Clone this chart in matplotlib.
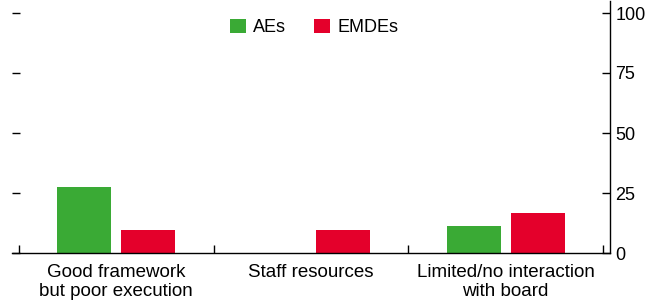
import matplotlib
matplotlib.use("Agg")
import matplotlib.pyplot as plt
import numpy as np

categories = ["Good framework\nbut poor execution", "Staff resources", "Limited/no interaction\nwith board"]
aes = [27.5, 0, 11.2]
emdes = [9.6, 9.6, 16.8]
yticks = [0, 25, 50, 75, 100]

plt.rcParams['font.family'] = ['Liberation Sans Narrow', 'Liberation Sans', 'DejaVu Sans']

fig = plt.figure(figsize=(6.5, 3.07), dpi=100)
ax = fig.add_axes([12/650, 54/307, (610-12)/650, (253-1)/307])

x = np.arange(len(categories))
w = 0.277
off = 0.164
green = "#3AAA35"
red = "#E4002B"
ax.bar(x - off, aes, width=w, color=green, label="AEs")
ax.bar(x + off, emdes, width=w, color=red, label="EMDEs")

ax.set_xlim(-0.536, 2.536)
ax.set_ylim(0, 105)

for s in ["top", "left"]:
    ax.spines[s].set_visible(False)
ax.spines["bottom"].set_linewidth(1.0)
ax.spines["right"].set_linewidth(1.0)

ax.yaxis.tick_right()
ax.set_yticks(yticks)
ax.set_yticklabels([str(v) for v in yticks])
ax.tick_params(axis="y", which="both", direction="in", length=6, width=1,
               labelsize=13, pad=4, left=True, right=True, labelleft=False, labelright=True)

# category separators as minor ticks
ax.set_xticks(x)
ax.set_xticklabels(categories, linespacing=1.15)
ax.set_xticks([-0.5, 0.5, 1.5, 2.5], minor=True)
ax.tick_params(axis="x", which="major", length=0, labelsize=13.5, pad=8)
ax.tick_params(axis="x", which="minor", direction="in", length=6, width=1)

leg = ax.legend(loc="upper center", bbox_to_anchor=(0.505, 0.995), ncol=2, frameon=False,
                fontsize=13, handlelength=0.9, handleheight=0.9, handletextpad=0.4,
                columnspacing=1.5)

fig.savefig("out.png", dpi=100)
